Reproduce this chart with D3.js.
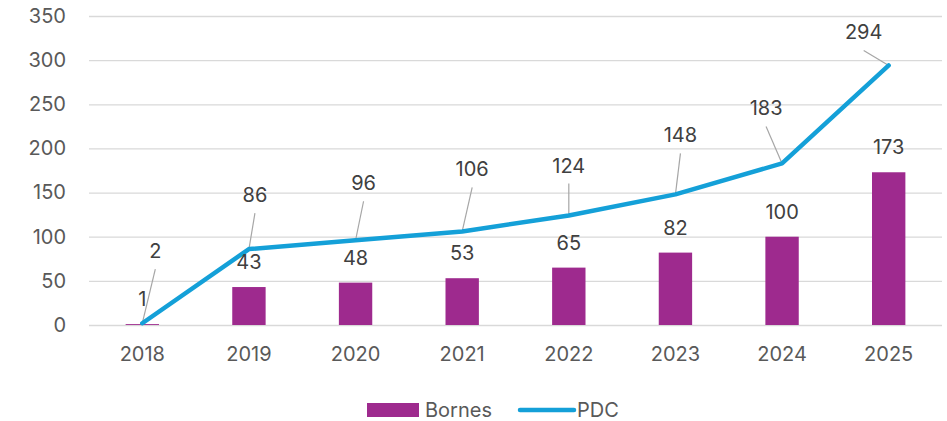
<!DOCTYPE html>
<html>
<head>
<meta charset="utf-8">
<script src="https://cdn.jsdelivr.net/npm/d3@7"></script>
<style>
  html, body { margin: 0; padding: 0; background: #ffffff; }
  svg { display: block; }
  text { font-family: 'Inter', 'Liberation Sans', sans-serif; }
</style>
</head>
<body>
<svg id="chart" width="947" height="421"></svg>
<script>
// Chart data
const years = ['2018', '2019', '2020', '2021', '2022', '2023', '2024', '2025'];
const bornes = [1, 43, 48, 53, 65, 82, 100, 173];
const pdc = [2, 86, 96, 106, 124, 148, 183, 294];
const yTicks = [0, 50, 100, 150, 200, 250, 300, 350];
const seriesNames = ['Bornes', 'PDC'];

// Manually moved PDC labels (pixel offset from the point)
const pdcLabelOffsets = [
    [13, -72], [6, -54], [8, -57], [10, -62],
    [0, -50], [5, -59], [-16, -55], [-25, -33]
];

const colors = { bornes: '#9E2A8E', pdc: '#14A0D8' };

const width = 947, height = 421;
const plot = { left: 89, right: 942, top: 16, bottom: 325 };

const svg = d3.select('#chart');

const x = d3.scaleBand()
    .domain(years)
    .range([plot.left, plot.right]);

const y = d3.scaleLinear()
    .domain([0, 350])
    .range([plot.bottom, plot.top]);

// Gridlines
svg.append('g')
    .attr('class', 'grid')
    .attr('transform', `translate(${plot.left},0)`)
    .call(d3.axisLeft(y).tickValues(yTicks).tickSize(-(plot.right - plot.left)).tickFormat(''))
    .call(g => g.select('.domain').remove())
    .call(g => g.selectAll('line').attr('stroke', '#D9D9D9').attr('stroke-width', 1.3));

// Y axis labels
svg.append('g')
    .attr('class', 'y-axis')
    .attr('transform', 'translate(66,0)')
    .call(d3.axisLeft(y).tickValues(yTicks).tickSize(0).tickPadding(0))
    .call(g => g.select('.domain').remove())
    .call(g => g.selectAll('text')
        .attr('fill', '#595959')
        .attr('font-size', '20px'));

// X axis labels
svg.append('g')
    .attr('class', 'x-axis')
    .attr('transform', `translate(0,${plot.bottom})`)
    .call(d3.axisBottom(x).tickSize(0).tickPadding(0))
    .call(g => g.select('.domain').remove())
    .call(g => g.selectAll('text')
        .attr('fill', '#595959')
        .attr('font-size', '20px')
        .attr('dy', null)
        .attr('y', 36));

// Bars
const barWidth = x.bandwidth() * 0.313;
const barData = years.map((d, i) => ({ year: d, value: bornes[i] }));

svg.append('g')
    .attr('class', 'bars')
    .selectAll('rect')
    .data(barData)
    .join('rect')
    .attr('x', d => x(d.year) + (x.bandwidth() - barWidth) / 2)
    .attr('y', d => y(d.value))
    .attr('width', barWidth)
    .attr('height', d => y(0) - y(d.value))
    .attr('fill', colors.bornes);

// PDC line
const lineData = years.map((d, i) => ({ year: d, value: pdc[i], off: pdcLabelOffsets[i] }));
const cx = d => x(d.year) + x.bandwidth() / 2;

const line = d3.line()
    .x(cx)
    .y(d => y(d.value));

// Leader lines for the moved labels
svg.append('g')
    .attr('class', 'leaders')
    .selectAll('line')
    .data(lineData)
    .join('line')
    .attr('x1', d => cx(d) + d.off[0])
    .attr('y1', d => y(d.value) + d.off[1] + 18)
    .attr('x2', cx)
    .attr('y2', d => y(d.value))
    .attr('stroke', '#A6A6A6')
    .attr('stroke-width', 1.2);

svg.append('path')
    .datum(lineData)
    .attr('d', line)
    .attr('fill', 'none')
    .attr('stroke', colors.pdc)
    .attr('stroke-width', 4.5)
    .attr('stroke-linejoin', 'round')
    .attr('stroke-linecap', 'round');

// Bar labels
svg.append('g')
    .attr('class', 'bar-labels')
    .selectAll('text')
    .data(barData)
    .join('text')
    .attr('x', d => x(d.year) + x.bandwidth() / 2)
    .attr('y', d => y(d.value) - 25)
    .attr('dy', '0.35em')
    .attr('text-anchor', 'middle')
    .attr('font-size', '20px')
    .attr('fill', '#404040')
    .text(d => d.value);

// PDC labels
svg.append('g')
    .attr('class', 'pdc-labels')
    .selectAll('text')
    .data(lineData)
    .join('text')
    .attr('x', d => cx(d) + d.off[0])
    .attr('y', d => y(d.value) + d.off[1])
    .attr('dy', '0.35em')
    .attr('text-anchor', 'middle')
    .attr('font-size', '20px')
    .attr('fill', '#404040')
    .text(d => d.value);

// Legend
const legend = svg.append('g').attr('class', 'legend');
legend.append('rect')
    .attr('x', 367).attr('y', 403)
    .attr('width', 52).attr('height', 14)
    .attr('fill', colors.bornes);
legend.append('text')
    .attr('x', 425).attr('y', 410).attr('dy', '0.35em')
    .attr('font-size', '20px').attr('fill', '#595959')
    .text(seriesNames[0]);
legend.append('line')
    .attr('x1', 520).attr('x2', 574)
    .attr('y1', 410).attr('y2', 410)
    .attr('stroke', colors.pdc).attr('stroke-width', 4.5)
    .attr('stroke-linecap', 'round');
legend.append('text')
    .attr('x', 577).attr('y', 410).attr('dy', '0.35em')
    .attr('font-size', '20px').attr('fill', '#595959')
    .text(seriesNames[1]);
</script>
</body>
</html>
